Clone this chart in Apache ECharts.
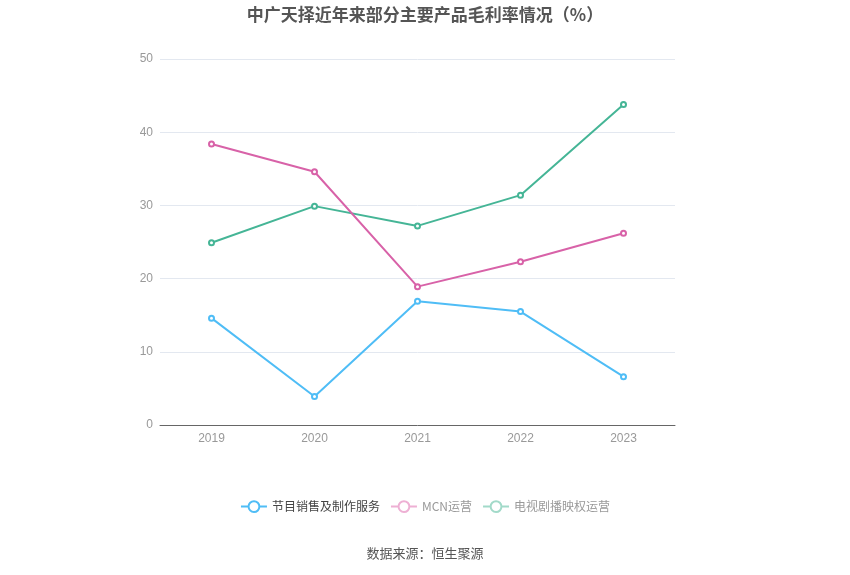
<!DOCTYPE html>
<html>
<head>
<meta charset="utf-8">
<script src="https://cdn.jsdelivr.net/npm/echarts@6/dist/echarts.min.js"></script>
<style>html,body{margin:0;padding:0;background:#fff;}#main{width:850px;height:575px;}</style>
</head>
<body>
<div id="main"></div>
<script>
var categories = ['2019', '2020', '2021', '2022', '2023'];
var seriesNames = ['节目销售及制作服务', 'MCN运营', '电视剧播映权运营'];
var programSales = [14.6, 3.9, 16.9, 15.5, 6.6];
var mcnOps = [38.4, 34.6, 18.9, 22.3, 26.2];
var tvRights = [24.9, 29.9, 27.2, 31.4, 43.8];
var colors = ['#4fbdf6', '#d862a8', '#45b596'];
var fadedColors = ['#4fbdf6', '#eeb0d4', '#a2dac9'];

var chart = echarts.init(document.getElementById('main'));
var font = '"Microsoft YaHei", "Noto Sans CJK SC", sans-serif';
function mk(name, data, i) {
  return {
    name: name, type: 'line', data: data,
    symbol: 'emptyCircle', symbolSize: 5,
    lineStyle: { width: 2, color: colors[i] },
    itemStyle: { color: colors[i], borderWidth: 1.5 },
    z: 3 - i
  };
}
chart.setOption({
  animation: false,
  title: {
    text: '中广天择近年来部分主要产品毛利率情况（%）',
    left: 'center', top: 1,
    textStyle: { fontSize: 17, fontWeight: 'bold', color: '#555', fontFamily: font }
  },
  legend: {
    bottom: 57, left: 'center', itemWidth: 26, itemHeight: 12, itemGap: 10,
    textStyle: { fontSize: 12, fontFamily: font },
    data: seriesNames.map(function (n, i) {
      var c = fadedColors[i];
      return {
        name: n,
        icon: 'path://M0,6 L7,6 A5,5 0 1 1 7,6.01 M17,6 L24,6 M7,6 A5,5 0 1 0 17,6 A5,5 0 1 0 7,6 Z',
        itemStyle: { color: 'rgba(0,0,0,0)', borderColor: c, borderWidth: 2 },
        textStyle: { color: i === 0 ? '#444' : '#999', fontFamily: font, fontSize: 12 }
      };
    })
  },
  grid: { left: 160, right: 175, top: 59, bottom: 150 },
  xAxis: {
    type: 'category', data: categories, boundaryGap: true,
    axisLine: { lineStyle: { color: '#666' } },
    axisTick: { alignWithLabel: true, lineStyle: { color: '#666' } },
    axisLabel: { color: '#999', fontSize: 12, margin: 8 }
  },
  yAxis: {
    type: 'value', min: 0, max: 50, interval: 10,
    axisLine: { show: false }, axisTick: { show: false },
    axisLabel: { color: '#999', fontSize: 12, margin: 7 },
    splitLine: { lineStyle: { color: '#e3e8f0' } }
  },
  series: [mk(seriesNames[0], programSales, 0), mk(seriesNames[1], mcnOps, 1), mk(seriesNames[2], tvRights, 2)],
  graphic: [{
    type: 'text', left: 'center', top: 547,
    style: { text: '数据来源：恒生聚源', fill: '#555', fontSize: 13, fontFamily: font }
  }]
});
</script>
</body>
</html>
